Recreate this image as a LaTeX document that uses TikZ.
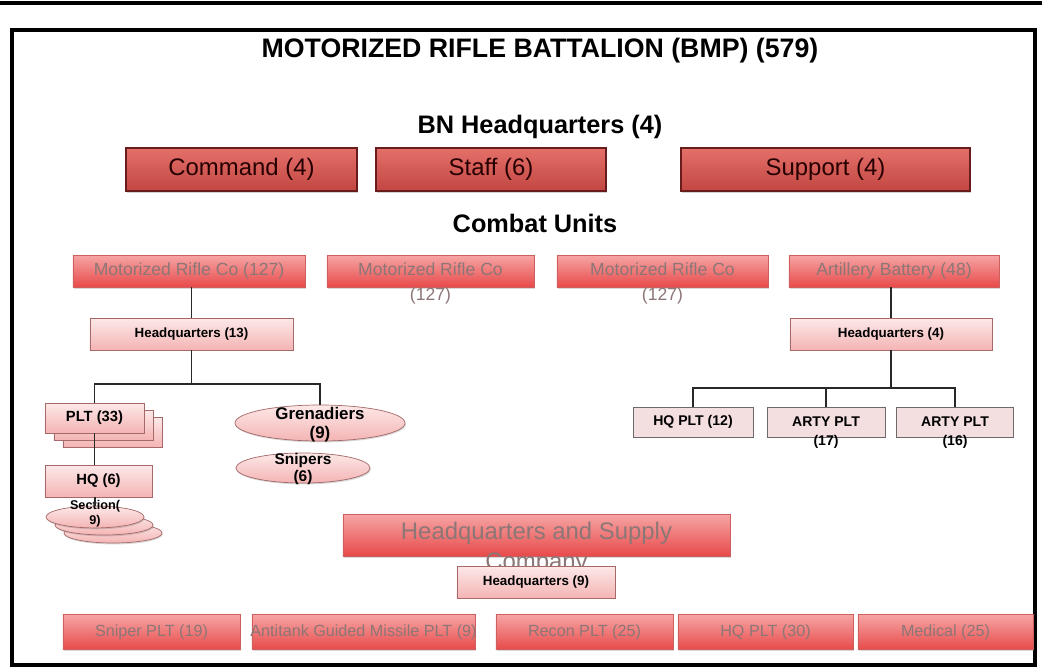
\documentclass[tikz,border=0pt]{standalone}
\usepackage{fontspec}
\setmainfont{Liberation Sans}
\usetikzlibrary{shapes.geometric,shadows}

\definecolor{hqtop}{RGB}{228,112,106}
\definecolor{hqbot}{RGB}{194,70,66}
\definecolor{hqline}{RGB}{105,28,28}
\definecolor{cotop}{RGB}{246,165,165}
\definecolor{cobot}{RGB}{232,74,74}
\definecolor{coline}{RGB}{205,95,95}
\definecolor{cotext}{RGB}{140,118,118}
\definecolor{pinktop}{RGB}{253,232,232}
\definecolor{pinkbot}{RGB}{244,180,180}
\definecolor{pinkline}{RGB}{165,105,105}
\definecolor{artyfill}{RGB}{243,222,224}
\definecolor{artyline}{RGB}{110,105,105}
\definecolor{wirecol}{RGB}{40,40,40}

\newcommand{\twolines}[2]{\begin{tabular}[t]{@{}c@{}}#1\\#2\end{tabular}}

\begin{document}
\begin{tikzpicture}[x=0.025cm,y=-0.025cm]
        \tikzstyle{every node}=[inner sep=2pt]
        \tikzstyle{hqbox}=[draw=hqline,line width=0.9pt,top color=hqtop,bottom color=hqbot,minimum height=1.075cm,font=\fontsize{17}{20}\selectfont,text=black!85!red,drop shadow={shadow xshift=0.8pt,shadow yshift=-1.2pt,opacity=.35}]
        \tikzstyle{cobox}=[draw=coline,line width=0.5pt,top color=cotop,bottom color=cobot,minimum height=0.8cm,font=\fontsize{12.5}{18}\selectfont,text=cotext,drop shadow={shadow xshift=0.8pt,shadow yshift=-1.2pt,opacity=.3}]
        \tikzstyle{pinkbox}=[draw=pinkline,line width=0.5pt,top color=pinktop,bottom color=pinkbot,minimum height=0.8cm,font=\fontsize{9.5}{11}\selectfont\bfseries,drop shadow={shadow xshift=0.6pt,shadow yshift=-1pt,opacity=.3}]
        \tikzstyle{pinkoval}=[ellipse,draw=pinkline,line width=0.5pt,top color=pinktop,bottom color=pinkbot,inner sep=0pt,text height=0.1em,text depth=0.58em,font=\fontsize{11}{12}\selectfont\bfseries,drop shadow={shadow xshift=0.6pt,shadow yshift=-1pt,opacity=.3}]
        \tikzstyle{artybox}=[draw=artyline,line width=0.6pt,fill=artyfill,minimum width=2.95cm,minimum height=0.75cm,font=\fontsize{10}{14}\selectfont\bfseries,drop shadow={shadow xshift=0.6pt,shadow yshift=-1pt,opacity=.25}]
        \tikzstyle{wrapped}=[text height=1.6ex,text depth=0.45ex]
        \tikzstyle{wire}=[draw=wirecol,line width=1.3pt]
        \tikzstyle{heading}=[font=\fontsize{18}{21}\selectfont\bfseries]

        \useasboundingbox (0,0) rectangle (1042,672);
        \draw[line width=3pt] (0,3) -- (1042,3);
        \draw[line width=2.4pt,fill=white] (12,30) rectangle (1035,665);

        % battalion
        \node[font=\fontsize{19}{22}\selectfont\bfseries] (title) at (540,51) {MOTORIZED RIFLE BATTALION (BMP) (579)};

        % bn headquarters
        \node[heading] (bnhq) at (540,127) {BN Headquarters (4)};
        \node[hqbox,minimum width=5.775cm] (command) at (241.5,169.5) {Command (4)};
        \node[hqbox,minimum width=5.75cm] (staff) at (491,169.5) {Staff (6)};
        \node[hqbox,minimum width=7.225cm] (support) at (825.5,169.5) {Support (4)};

        % combat units
        \node[heading] (combat) at (535,223) {Combat Units};
        \node[cobox,minimum width=5.8cm] (mrc1) at (189,271) {Motorized Rifle Co (127)};
        \node[cobox,wrapped,minimum width=5.175cm] (mrc2) at (430.5,271) {\twolines{Motorized Rifle Co}{(127)}};
        \node[cobox,wrapped,minimum width=5.275cm] (mrc3) at (662.5,271) {\twolines{Motorized Rifle Co}{(127)}};
        \node[cobox,minimum width=5.25cm] (art) at (894,271) {Artillery Battery (48)};

        % rifle company
        \node[pinkbox,minimum width=5.075cm] (hq13) at (191.5,334) {Headquarters (13)};
        \draw[wire] (hq13.north |- mrc1.south) -- (hq13.north);
        \coordinate (lbar) at (191.5,384);

        \node[pinkbox,minimum width=2.475cm,minimum height=0.75cm] (plt3) at (112.5,432) {};
        \node[pinkbox,minimum width=2.475cm,minimum height=0.75cm] (plt2) at (103.5,425) {};
        \node[pinkbox,minimum width=2.475cm,minimum height=0.75cm,font=\fontsize{10.5}{12}\selectfont\bfseries] (plt) at (94.5,418) {PLT (33)};
        \node[pinkoval,minimum width=4.25cm,minimum height=0.9cm,font=\fontsize{12}{13.5}\selectfont\bfseries] (gren) at (320,423) {\twolines{Grenadiers}{(9)}};
        \node[pinkoval,minimum width=3.35cm,minimum height=0.75cm] (snip) at (303,468) {\twolines{Snipers}{(6)}};
        \draw[wire] (hq13.south) -- (lbar);
        \draw[wire] (plt.north) |- (lbar) -| (gren.north);

        \node[pinkbox,minimum width=2.675cm,font=\fontsize{10.5}{12}\selectfont\bfseries] (hq6) at (98.5,481) {HQ (6)};
        \draw[wire] (plt.south) -- (plt.south |- hq6.north);

        \node[pinkoval,minimum width=2.45cm,minimum height=0.5cm] (sect3) at (113,533) {};
        \node[pinkoval,minimum width=2.45cm,minimum height=0.5cm] (sect2) at (104,525) {};
        \node[pinkoval,minimum width=2.45cm,minimum height=0.5cm,text height=0em,text depth=1.1em,font=\fontsize{9}{10.5}\selectfont\bfseries] (sect) at (95,517) {\twolines{Section(}{9)}};
        \draw[wire] (sect.north |- hq6.south) -- (sect.north);

        % artillery battery
        \node[pinkbox,minimum width=5.05cm] (hq4) at (891,334) {Headquarters (4)};
        \draw[wire] (hq4.north |- art.south) -- (hq4.north);
        \coordinate (rbar) at (891,388);
        \node[artybox,minimum width=3cm] (hqplt) at (693,422) {HQ PLT (12)};
        \node[artybox,wrapped] (arty17) at (826,422) {\twolines{ARTY PLT}{(17)}};
        \node[artybox,wrapped,minimum width=2.925cm] (arty16) at (955,422) {\twolines{ARTY PLT}{(16)}};
        \draw[wire] (hq4.south) -- (rbar);
        \draw[wire] (hqplt.north) |- (rbar) -| (arty16.north);
        \draw[wire] (arty17.north) -- (arty17.north |- rbar);

        % headquarters and supply company
        \node[cobox,wrapped,minimum width=9.675cm,minimum height=1.05cm,font=\fontsize{17}{21.5}\selectfont] (hqs) at (536.5,535) {\twolines{Headquarters and Supply}{Company}};
        \node[pinkbox,minimum width=3.95cm] (hq9) at (536,582) {Headquarters (9)};

        \node[cobox,minimum width=4.425cm,minimum height=0.875cm,font=\fontsize{11.5}{13}\selectfont] (sniper) at (151.5,632) {Sniper PLT (19)};
        \node[cobox,minimum width=5.575cm,minimum height=0.875cm,font=\fontsize{11.5}{13}\selectfont] (atgm) at (363.5,632) {\makebox[0pt]{Antitank Guided Missile PLT (9)}};
        \node[cobox,minimum width=4.425cm,minimum height=0.875cm,font=\fontsize{11.5}{13}\selectfont] (recon) at (584.5,632) {Recon PLT (25)};
        \node[cobox,minimum width=4.375cm,minimum height=0.875cm,font=\fontsize{11.5}{13}\selectfont] (hqplt2) at (765.5,632) {HQ PLT (30)};
        \node[cobox,minimum width=4.375cm,minimum height=0.875cm,font=\fontsize{11.5}{13}\selectfont] (medical) at (945.5,632) {Medical (25)};

\end{tikzpicture}
\end{document}
